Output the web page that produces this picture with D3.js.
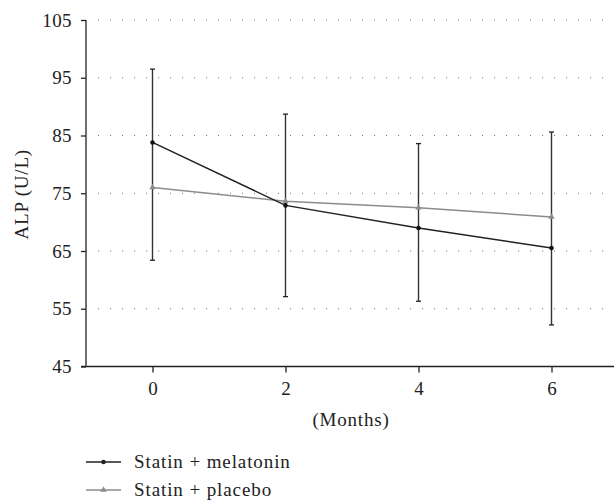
<!DOCTYPE html>
<html>
<head>
<meta charset="utf-8">
<script src="https://cdn.jsdelivr.net/npm/d3@7"></script>
<style>
  body { margin: 0; background: #fff; }
  svg text { font-family: "Liberation Serif", "Times New Roman", Tinos, "DejaVu Serif", serif !important; fill: #222; }
</style>
</head>
<body>
<script>
// data
var months = [0, 2, 4, 6];
var melatonin = [83.8, 72.9, 69.0, 65.5];
var melatoninSD = [12.7, 15.8, 12.7, 13.3];
var placebo = [76.0, 73.6, 72.5, 70.9];
var placeboSD = [12.6, 14.9, 11.1, 14.7];
var yTicks = [45, 55, 65, 75, 85, 95, 105];
var xTicks = [0, 2, 4, 6];
var seriesNames = ['Statin + melatonin', 'Statin + placebo'];

var width = 614, height = 500;
var fs = '19px';
var svg = d3.select('body').append('svg')
  .attr('width', width).attr('height', height);

var x = d3.scaleLinear().domain([-1, 7]).range([86, 618]);
var y = d3.scaleLinear().domain([45, 105]).range([366.5, 20]);

// dotted grid
svg.append('g').selectAll('line').data(yTicks.filter(function(d){ return d > 45; }))
  .enter().append('line')
  .attr('x1', 98).attr('x2', width)
  .attr('y1', function(d){ return y(d); }).attr('y2', function(d){ return y(d); })
  .attr('stroke', '#777').attr('stroke-width', 1.1)
  .attr('stroke-dasharray', '1.1,10.9');

// y axis
var yAxis = d3.axisLeft(y).tickValues(yTicks).tickSize(5).tickPadding(9);
var gy = svg.append('g').attr('transform', 'translate(' + x(-1) + ',0)').call(yAxis)
  .attr('font-family', null).attr('font-size', null);
gy.select('.domain').attr('d', 'M0,' + y(105) + 'V' + y(45)).attr('stroke', '#222').attr('stroke-width', 1.3);
gy.selectAll('.tick line').attr('stroke', '#222').attr('stroke-width', 1.3);
gy.selectAll('.tick text').style('font-size', fs).style('letter-spacing', '0.4px').attr('fill', '#222');

// x axis
var xAxis = d3.axisBottom(x).tickValues(xTicks).tickSize(6).tickPadding(9);
var gx = svg.append('g').attr('transform', 'translate(0,' + y(45) + ')').call(xAxis)
  .attr('font-family', null).attr('font-size', null);
gx.select('.domain').attr('d', 'M' + (x(-1) - 5) + ',0H' + width).attr('stroke', '#222').attr('stroke-width', 1.3);
gx.selectAll('.tick line').attr('stroke', '#222').attr('stroke-width', 1.3);
gx.selectAll('.tick text').style('font-size', fs).attr('fill', '#222');

svg.append('text').attr('x', 351).attr('y', 426).attr('text-anchor', 'middle')
  .style('font-size', fs).style('letter-spacing', '0.8px').text('(Months)');
svg.append('text').attr('transform', 'translate(28,' + (y(75) + 1) + ') rotate(-90)')
  .attr('text-anchor', 'middle').style('font-size', fs).style('letter-spacing', '0.8px').text('ALP (U/L)');

// error bars: one bar per month covering both groups
var bars = months.map(function(m, i){
  return {
    m: m,
    lo: Math.min(melatonin[i] - melatoninSD[i], placebo[i] - placeboSD[i]),
    hi: Math.max(melatonin[i] + melatoninSD[i], placebo[i] + placeboSD[i])
  };
});
var eb = svg.append('g').selectAll('g').data(bars).enter().append('g');
eb.append('line')
  .attr('x1', function(d){ return x(d.m); }).attr('x2', function(d){ return x(d.m); })
  .attr('y1', function(d){ return y(d.hi); }).attr('y2', function(d){ return y(d.lo); })
  .attr('stroke', '#333').attr('stroke-width', 1.4);
eb.append('line')
  .attr('x1', function(d){ return x(d.m) - 2.5; }).attr('x2', function(d){ return x(d.m) + 2.5; })
  .attr('y1', function(d){ return y(d.hi); }).attr('y2', function(d){ return y(d.hi); })
  .attr('stroke', '#222').attr('stroke-width', 1.3);
eb.append('line')
  .attr('x1', function(d){ return x(d.m) - 2.5; }).attr('x2', function(d){ return x(d.m) + 2.5; })
  .attr('y1', function(d){ return y(d.lo); }).attr('y2', function(d){ return y(d.lo); })
  .attr('stroke', '#222').attr('stroke-width', 1.3);

var line = d3.line().x(function(d){ return x(d[0]); }).y(function(d){ return y(d[1]); });
var pla = months.map(function(m, i){ return [m, placebo[i]]; });
var mel = months.map(function(m, i){ return [m, melatonin[i]]; });

var triangle = d3.symbol().type(d3.symbolTriangle).size(18);
var dot = d3.symbol().type(d3.symbolCircle).size(16);

svg.append('path').datum(pla).attr('d', line)
  .attr('fill', 'none').attr('stroke', '#8c8c8c').attr('stroke-width', 1.5);
svg.append('g').selectAll('path').data(pla).enter().append('path')
  .attr('d', triangle)
  .attr('transform', function(d){ return 'translate(' + x(d[0]) + ',' + y(d[1]) + ')'; })
  .attr('fill', '#8c8c8c');

svg.append('path').datum(mel).attr('d', line)
  .attr('fill', 'none').attr('stroke', '#222').attr('stroke-width', 1.5);
svg.append('g').selectAll('path').data(mel).enter().append('path')
  .attr('d', dot)
  .attr('transform', function(d){ return 'translate(' + x(d[0]) + ',' + y(d[1]) + ')'; })
  .attr('fill', '#111');

// legend
var legColors = ['#222', '#8c8c8c'];
var leg = svg.append('g').selectAll('g').data(seriesNames).enter().append('g')
  .attr('transform', function(d, i){ return 'translate(86,' + (462 + i * 28) + ')'; });
leg.append('line').attr('x1', 0).attr('x2', 35).attr('y1', 0).attr('y2', 0)
  .attr('stroke', function(d, i){ return legColors[i]; }).attr('stroke-width', 1.5);
leg.append('path')
  .attr('d', function(d, i){ return i === 0 ? dot() : triangle(); })
  .attr('transform', 'translate(17.5,0)')
  .attr('fill', function(d, i){ return legColors[i]; });
leg.append('text').attr('x', 48).attr('y', 6).style('font-size', fs).style('letter-spacing', '0.9px')
  .text(function(d){ return d; });
</script>
</body>
</html>
